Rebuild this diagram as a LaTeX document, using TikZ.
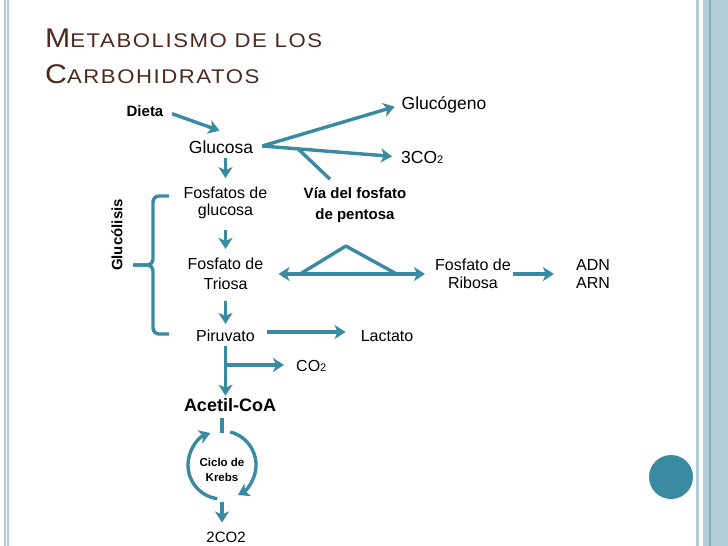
\documentclass[tikz,border=0pt]{standalone}
\usepackage{fontspec}
\usepackage{graphicx}
\setmainfont{Liberation Sans}
\newfontfamily\titfont[LetterSpace=7]{Liberation Sans}
\usetikzlibrary{arrows.meta,positioning,calc}
\definecolor{azul}{RGB}{58,139,162}
\definecolor{franja}{RGB}{178,204,214}
\definecolor{franjaosc}{RGB}{128,172,188}
\definecolor{cafe}{RGB}{76,42,30}
\newcommand{\subdos}{{\fontsize{11}{11}\selectfont 2}}
\newcommand{\grande}{\fontsize{27}{28}\selectfont}
\newcommand{\chica}{\fontsize{19.8}{20}\selectfont}
\tikzset{
  punta/.tip={Stealth[length=11pt,width=14pt,inset=3pt]},
  flecha/.style={draw=azul,line width=3.4pt,-punta},
  linea/.style={draw=azul,line width=3.4pt},
  texto/.style={font=\fontsize{16}{18}\selectfont,align=center,inner sep=1pt},
  negrita/.style={font=\fontsize{15}{20}\selectfont\bfseries,align=center,inner sep=1pt}
}

\begin{document}
\begin{tikzpicture}[x=1pt,y=-1pt]
  \useasboundingbox (0,0) rectangle (728,546);
  % franjas del marco
  \fill[franja] (3.5,0) rectangle (5.5,546);
  \fill[franja] (6.5,0) rectangle (8.5,546);
  \fill[franja] (696,0) rectangle (699,546);
  \fill[franja] (703,0) rectangle (728,546);
  \fill[franjaosc] (709,0) rectangle (710.5,546);
  \fill[azul] (671,477) circle (22);

  % titulo
  \node[anchor=base west,inner sep=0,text=cafe] (tit1) at (45,47)
    {\scalebox{1.12}[1]{\titfont\grande M\chica ETABOLISMO DE LOS}};
  \node[anchor=base west,inner sep=0,text=cafe] (tit2) at (45,83)
    {\scalebox{1.12}[1]{\titfont\grande C\chica ARBOHIDRATOS}};

  % nodos
  \node[negrita] (dieta) at (145,111) {Dieta};
  \node[texto,font=\fontsize{17.5}{19}\selectfont] (glucosa) at (221,147) {Glucosa};
  \node[texto,font=\fontsize{17.5}{19}\selectfont] (glucogeno) at (444,105) {Glucógeno};
  \node[texto,font=\fontsize{17.5}{19}\selectfont,anchor=west] (co3) at (400,157) {3CO\subdos};
  \node[texto,font=\fontsize{16}{16.5}\selectfont] (fosfatos) at (225.5,203) {Fosfatos de\\glucosa};
  \node[negrita,font=\fontsize{15}{21}\selectfont\bfseries] (via) at (355,205) {Vía del fosfato\\de pentosa};
  \node[texto,font=\fontsize{16}{20}\selectfont] (triosa) at (225.5,274) {Fosfato de\\Triosa};
  \node[texto] (ribosa) at (473,274) {Fosfato de\\Ribosa};
  \node[texto] (adn) at (593,274) {ADN\\ARN};
  \node[texto] (piruvato) at (225.5,336) {Piruvato};
  \node[texto] (lactato) at (387,336) {Lactato};
  \node[texto,anchor=west] (co2) at (295,366) {CO\subdos};
  \node[negrita,font=\fontsize{18}{20}\selectfont\bfseries] (acetil) at (230,405.5) {Acetil-CoA};
  \node[negrita,font=\fontsize{11.5}{15}\selectfont\bfseries] (krebs) at (222,470) {Ciclo de\\Krebs};
  \node[texto,font=\fontsize{15}{17}\selectfont] (co2b) at (226,537) {2CO2};
  \node[negrita,rotate=90] (glucolisis) at (117,235) {Glucólisis};
  \coordinate (ciclo) at (222,465);

  % conectores
  \draw[flecha,shorten <=8pt,shorten >=8pt] (dieta.east) -- ([xshift=6pt,yshift=6pt]glucosa.north);
  \coordinate (gsal) at ($(glucosa.east)+(8,-1)$);
  \draw[flecha,shorten >=6pt] (gsal) -- (glucogeno.west);
  \draw[flecha,shorten >=8pt] (gsal) -- (co3.west);
  \draw[linea] ($(gsal)!0.26!(co3.west)$) -- ($(via.north)+(-25,-7)$);

  \draw[flecha,shorten <=3.5pt,shorten >=8pt] (glucosa.south -| fosfatos) -- (fosfatos.north);
  \draw[flecha,shorten <=10pt,shorten >=8pt] (fosfatos.south) -- (triosa.north);
  \draw[flecha,shorten <=10pt,shorten >=5pt] (triosa.south) -- (piruvato.north);
  \draw[flecha,shorten <=11pt,shorten >=14pt] ([yshift=4pt]piruvato.east) -- ([yshift=4pt]lactato.west);
  \draw[flecha,shorten <=3pt,shorten >=2pt] (piruvato.south) -- (piruvato.south |- acetil.north);
  \coordinate (rama) at ($(piruvato.south)!0.4!(piruvato.south |- acetil.north)$);
  \draw[flecha,shorten >=11pt] (rama) -- (rama -| co2.west);

  \draw[flecha,punta-punta,shorten <=14pt,shorten >=9pt] (triosa.east) -- (ribosa.west);
  \draw[linea,line join=round] ($(triosa.east)!0.21!(ribosa.west)$)
    -- ($(triosa.east)!0.48!(ribosa.west)+(0,-28)$) -- ($(triosa.east)!0.78!(ribosa.west)$);
  \draw[flecha,shorten <=1pt,shorten >=21pt] (ribosa.east) -- (adn.west);

  % llave de la glucolisis
  \draw[linea,rounded corners=6pt] (169,196) -- (153,196) -- (153,265) -- (133,265);
  \draw[linea,rounded corners=6pt] (133,265) -- (153,265) -- (153,334) -- (169,334);

  % ciclo de Krebs
  \draw[linea,shorten <=5pt] (acetil.south -| ciclo) -- ($(ciclo)+(0,-32)$);
  \draw[flecha] ($(ciclo)+(98:34)$) arc[start angle=98,end angle=250,radius=34];
  \draw[flecha] ($(ciclo)+(284:34)$) arc[start angle=284,end angle=422,radius=34];
  \draw[flecha,shorten >=8pt] ($(ciclo)+(0,37)$) -- (co2b.north -| ciclo);
\end{tikzpicture}
\end{document}
